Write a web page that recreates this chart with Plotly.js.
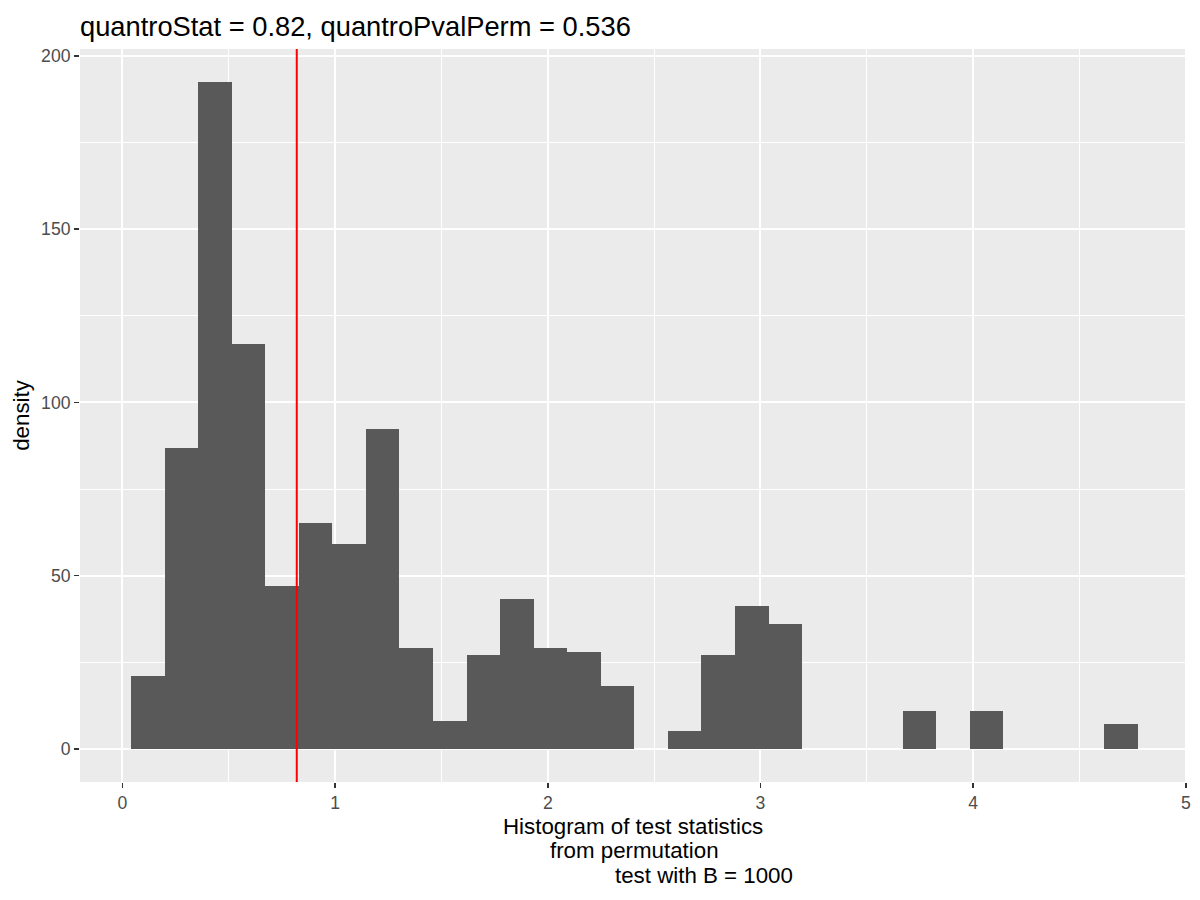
<!DOCTYPE html>
<html>
<head>
<meta charset="utf-8">
<script src="https://cdn.plot.ly/plotly-3.0.1.min.js"></script>
<style>html,body{margin:0;padding:0;background:#fff;}#chart{width:1200px;height:900px;}</style>
</head>
<body>
<div id="chart"></div>
<script>
// ---- data ----
const binLeftEdge = 0.0409;
const binWidth = 0.15773;
const density = [21, 87, 192.4, 117, 47, 65.2, 59.1, 92.3, 29.1, 8,
                 27, 43.2, 29.1, 27.9, 18.1, 0, 5.1, 27, 41.2, 36,
                 0, 0, 0, 10.9, 0, 10.9, 0, 0, 0, 7.1];
const quantroStat = 0.82;
const quantroPvalPerm = 0.536;
const B = 1000;
const xTickVals = [0, 1, 2, 3, 4, 5];
const yTickVals = [0, 50, 100, 150, 200];
const titleText = 'quantroStat = ' + quantroStat + ', quantroPvalPerm = ' + quantroPvalPerm;
const xTitleLines = ['Histogram of test statistics', 'from permutation', 'test with B = ' + B];
const yTitle = 'density';

// ---- build ----
const binCenters = density.map((_, i) => binLeftEdge + (i + 0.5) * binWidth);

const FONT = 'Liberation Sans, Arial, Helvetica, sans-serif';

const trace = {
  type: 'bar',
  x: binCenters,
  y: density,
  width: binWidth,
  marker: {color: '#595959', line: {width: 0}},
  hoverinfo: 'x+y'
};

const xLineShift = [-1, 1, 70];
const xLineY = [-44.3, -68.9, -93.3];
const annotations = xTitleLines.map((t, i) => ({
  text: t, xref: 'paper', yref: 'paper', x: 0.5, y: 0,
  xanchor: 'center', yanchor: 'middle', xshift: xLineShift[i], yshift: xLineY[i],
  showarrow: false, font: {family: FONT, size: 22.3, color: '#000000'}
}));

const layout = {
  width: 1200, height: 900,
  margin: {l: 80, r: 13, t: 49, b: 118, pad: 0},
  paper_bgcolor: '#ffffff',
  plot_bgcolor: '#EBEBEB',
  bargap: 0,
  showlegend: false,
  title: {
    text: titleText,
    font: {family: FONT, size: 27.3, color: '#000000'},
    xref: 'container', yref: 'container',
    x: 80 / 1200, xanchor: 'left',
    y: 1 - 26 / 900, yanchor: 'middle'
  },
  xaxis: {
    range: [-0.199, 5.005],
    tickvals: xTickVals,
    ticktext: xTickVals.map(String),
    ticks: 'outside', ticklen: 5, tickwidth: 1.5, tickcolor: '#333333',
    tickfont: {family: FONT, size: 17.6, color: '#4D4D4D'},
    showgrid: true, gridcolor: '#ffffff', gridwidth: 2,
    minor: {dtick: 0.5, tick0: 0, showgrid: true, gridcolor: '#ffffff', gridwidth: 1, ticks: ''},
    zeroline: false, showline: false, fixedrange: true
  },
  yaxis: {
    range: [-9.53, 202.0],
    tickvals: yTickVals,
    ticktext: yTickVals.map(String),
    ticks: 'outside', ticklen: 5, tickwidth: 1.5, tickcolor: '#333333',
    tickfont: {family: FONT, size: 17.6, color: '#4D4D4D'},
    showgrid: true, gridcolor: '#ffffff', gridwidth: 2,
    minor: {dtick: 25, tick0: 0, showgrid: true, gridcolor: '#ffffff', gridwidth: 1, ticks: ''},
    zeroline: false, showline: false, fixedrange: true,
    title: {text: yTitle, font: {family: FONT, size: 22.3, color: '#000000'}, standoff: 5}
  },
  shapes: [{
    type: 'line', xref: 'x', yref: 'paper',
    x0: quantroStat, x1: quantroStat, y0: 0, y1: 1,
    line: {color: '#FF0000', width: 2}
  }],
  annotations: annotations
};

Plotly.newPlot('chart', [trace], layout, {displayModeBar: false, staticPlot: true});
</script>
</body>
</html>
